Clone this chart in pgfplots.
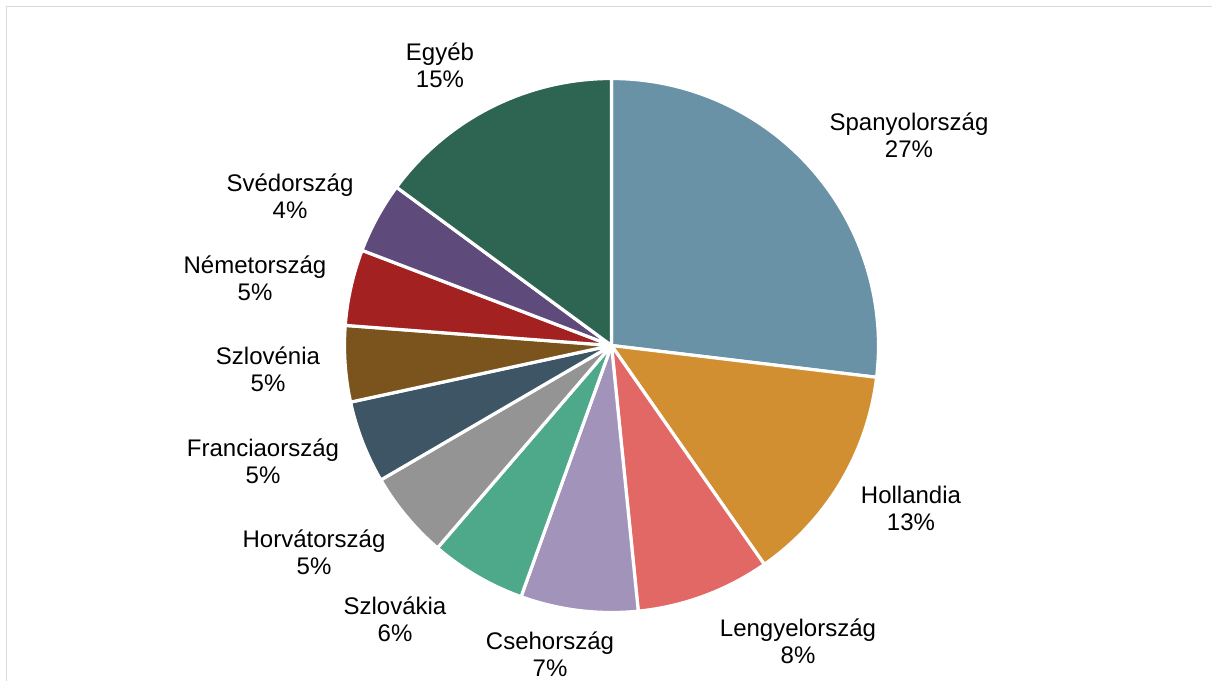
\documentclass[border=0pt]{standalone}
\usepackage{pgfplots}
\pgfplotsset{compat=1.18}
\usepackage{fontspec}
\setmainfont{Liberation Sans}
\definecolor{cSpa}{HTML}{6A92A6}
\definecolor{cHol}{HTML}{D18F31}
\definecolor{cLen}{HTML}{E26866}
\definecolor{cCse}{HTML}{A293BB}
\definecolor{cSzk}{HTML}{4EA88A}
\definecolor{cHor}{HTML}{949494}
\definecolor{cFra}{HTML}{3D5564}
\definecolor{cSzn}{HTML}{7B531C}
\definecolor{cNem}{HTML}{A42122}
\definecolor{cSve}{HTML}{5E4B7C}
\definecolor{cEgy}{HTML}{2E6552}
\tikzset{lbl/.style={font=\fontsize{12}{13.5}\selectfont, align=center, text=black, inner sep=0pt}}
% slice: #1 cumulative start (%), #2 cumulative end (%), #3 colour
\newcommand{\slice}[3]{%
  \addplot[fill=#3, draw=white, line width=1.6pt, line join=round, domain={90-3.6*#2}:{90-3.6*#1}, samples=80, variable=\t]
    ({611.5+267*cos(\t)},{335.5+267*sin(\t)}) -- (axis cs:611.5,335.5) -- cycle;
}
\begin{document}
\begin{tikzpicture}
\begin{axis}[hide axis, scale only axis, width=606pt, height=340.5pt,
  xmin=0, xmax=1212, ymin=0, ymax=681, clip=true]
% frame
\draw[color=black!15, line width=0.9pt] (axis cs:6.5,-20) -- (axis cs:6.5,674.5) -- (axis cs:1240,674.5);
% values (%): Spanyolorszag 26.9, Hollandia 13.4, Lengyelorszag 8.1, Csehorszag 7.1,
% Szlovakia 5.8, Horvatorszag 5.3, Franciaorszag 5.0, Szlovenia 4.6, Nemetorszag 4.6,
% Svedorszag 4.3, Egyeb 14.9
\slice{0}{26.9}{cSpa}
\slice{26.9}{40.3}{cHol}
\slice{40.3}{48.4}{cLen}
\slice{48.4}{55.5}{cCse}
\slice{55.5}{61.3}{cSzk}
\slice{61.3}{66.6}{cHor}
\slice{66.6}{71.6}{cFra}
\slice{71.6}{76.2}{cSzn}
\slice{76.2}{80.8}{cNem}
\slice{80.8}{85.1}{cSve}
\slice{85.1}{100}{cEgy}
\node[lbl] at (axis cs:440,616) {Egyéb\\15\%};
\node[lbl] at (axis cs:909,546) {Spanyolország\\27\%};
\node[lbl] at (axis cs:911,173) {Hollandia\\13\%};
\node[lbl] at (axis cs:798,40) {Lengyelország\\8\%};
\node[lbl] at (axis cs:550,27) {Csehország\\7\%};
\node[lbl] at (axis cs:395,62) {Szlovákia\\6\%};
\node[lbl] at (axis cs:314,129) {Horvátország\\5\%};
\node[lbl] at (axis cs:263,220) {Franciaország\\5\%};
\node[lbl] at (axis cs:268,312) {Szlovénia\\5\%};
\node[lbl] at (axis cs:255,403) {Németország\\5\%};
\node[lbl] at (axis cs:290,485) {Svédország\\4\%};
\end{axis}
\pgfresetboundingbox
\path (current axis.south west) rectangle (current axis.north east);
\end{tikzpicture}
\end{document}
